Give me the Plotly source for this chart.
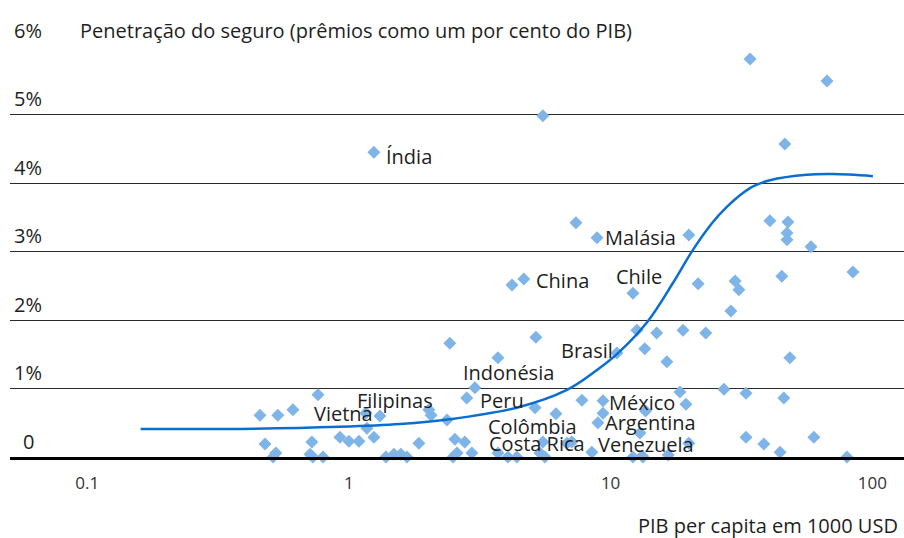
import math
import plotly.graph_objects as go

# scatter: GDP per capita (1000 USD) vs insurance penetration (% of GDP)
gdp = [
    0.457, 0.535, 0.611, 0.762, 0.478, 0.526, 0.513, 0.722, 0.710, 0.728, 0.796,
    0.924, 1.0, 1.092, 1.246, 1.172, 1.161, 1.313, 1.384, 1.486, 1.580, 1.666,
    1.851, 2.02, 2.06, 2.37, 2.54, 2.77, 2.59, 2.95, 2.50, 2.43,
    3.03, 2.82, 3.71, 5.18, 5.14, 6.18, 7.77, 9.35, 9.35, 8.94, 12.94, 5.51,
    7.11, 3.71, 4.05, 4.38, 5.37, 5.61, 6.81, 8.48, 12.17, 13.28, 10.57,
    34.1, 67.1, 5.51, 1.246, 46.3, 7.37, 8.87, 19.9, 40.6, 47.6, 47.2, 47.2,
    58.3, 4.66, 4.20, 12.17, 21.6, 29.9, 30.9, 28.8, 45.1, 84.3, 12.6, 15.0,
    18.9, 23.1, 13.5, 16.4, 48.4,
    18.4, 19.4, 27.1, 32.9, 45.9, 13.6, 13.2, 16.6, 19.9, 32.9, 38.5, 44.4,
    59.8, 80.0,
]
penetration = [
    0.61, 0.61, 0.69, 0.91, 0.19, 0.06, 0.0, 0.22, 0.04, 0.0, 0.0,
    0.29, 0.23, 0.23, 0.29, 0.42, 0.64, 0.60, 0.0, 0.04, 0.04, 0.0,
    0.20, 0.69, 0.61, 0.54, 0.26, 0.22, 0.06, 0.06, 0.0, 1.66,
    1.01, 0.86, 1.45, 1.75, 0.72, 0.63, 0.83, 0.82, 0.64, 0.50, 0.35, 0.22,
    0.22, 0.06, 0.0, 0.0, 0.06, 0.0, 0.20, 0.07, 0.0, 0.0, 1.52,
    5.81, 5.49, 4.98, 4.45, 4.57, 3.42, 3.20, 3.24, 3.45, 3.43, 3.27, 3.17,
    3.07, 2.60, 2.51, 2.39, 2.53, 2.57, 2.44, 2.13, 2.64, 2.70, 1.85, 1.81,
    1.85, 1.81, 1.58, 1.39, 1.45,
    0.95, 0.77, 0.99, 0.93, 0.86, 0.67, 0.02, 0.03, 0.20, 0.29, 0.19, 0.07,
    0.29, 0.0,
]

# fitted curve
fit_gdp = [0.160, 0.383, 0.924, 1.57, 2.43, 4.38, 6.81, 8.87, 10.7, 13.8,
           17.3, 20.6, 24.6, 27.8, 31.2, 35.0, 40.6, 56.2, 70.7, 100.5]
fit_pen = [0.41, 0.41, 0.44, 0.48, 0.55, 0.72, 0.98, 1.27, 1.52, 1.97,
           2.54, 3.02, 3.43, 3.65, 3.82, 3.95, 4.04, 4.12, 4.13, 4.10]

# country labels (left edge of text)
countries = ["Índia", "China", "Malásia", "Chile", "Brasil", "Indonésia",
             "Filipinas", "Vietnã", "Peru", "México", "Colômbia", "Argentina",
             "Costa Rica", "Venezuela"]
label_gdp = [1.373, 5.14, 9.43, 10.4, 6.40, 2.70, 1.06, 0.728, 3.14, 9.77,
             3.37, 9.43, 3.40, 8.87]
label_pen = [4.38, 2.57, 3.21, 2.63, 1.56, 1.23, 0.83, 0.64, 0.82, 0.80,
             0.44, 0.50, 0.19, 0.18]

y_ticks = [0, 1, 2, 3, 4, 5, 6]
y_ticktext = ["0", "1%", "2%", "3%", "4%", "5%", "6%"]
x_ticks = [0.1, 1, 10, 100]
x_ticktext = ["0.1", "1", "10", "100"]

FONT = "Open Sans, Noto Sans, sans-serif"
TXT = "#1e1e1e"
SIZE = 20

fig = go.Figure()
fig.add_trace(go.Scatter(
    x=gdp, y=penetration, mode="markers",
    marker=dict(symbol="diamond", size=10, color="#7fb4e8", line=dict(width=0)),
    cliponaxis=False, hoverinfo="skip",
))
fig.add_trace(go.Scatter(
    x=fit_gdp, y=fit_pen, mode="lines",
    line=dict(color="#0a6ed1", width=2.5, shape="spline", smoothing=1.0),
    hoverinfo="skip",
))

annotations = []
for name, gx, py in zip(countries, label_gdp, label_pen):
    # annotations on a log axis take log10 positions
    annotations.append(dict(
        x=math.log10(gx), y=py, xref="x", yref="y", text=name, showarrow=False,
        xanchor="left", yanchor="middle", borderpad=0,
        font=dict(family=FONT, size=SIZE, color=TXT),
    ))
for v, t in zip(y_ticks, y_ticktext):
    annotations.append(dict(
        x=0, y=v, xref="paper", yref="y", text=t, showarrow=False,
        xanchor="center", yanchor="middle", xshift=18, yshift=16,
        font=dict(family=FONT, size=SIZE, color=TXT),
    ))
annotations.append(dict(
    x=0, y=6, xref="paper", yref="y",
    text="Penetração do seguro (prêmios como um por cento do PIB)",
    showarrow=False, xanchor="left", yanchor="middle", xshift=68, yshift=16,
    font=dict(family=FONT, size=SIZE, color=TXT),
))
annotations.append(dict(
    x=1, y=0, xref="paper", yref="paper", text="PIB per capita em 1000 USD",
    showarrow=False, xanchor="right", yanchor="middle", xshift=-4, yshift=-68,
    font=dict(family=FONT, size=SIZE, color=TXT),
))

fig.update_layout(
    width=904, height=538,
    margin=dict(l=10, r=0, t=46, b=81),
    paper_bgcolor="white", plot_bgcolor="white",
    showlegend=False,
    annotations=annotations,
    xaxis=dict(
        type="log", range=[-1.295, 2.121],
        tickvals=x_ticks, ticktext=x_ticktext, ticks="",
        tickfont=dict(family=FONT, size=17, color="#333333"),
        ticklabelstandoff=9,
        showgrid=False, zeroline=False,
        showline=True, linecolor="black", linewidth=2.5,
    ),
    yaxis=dict(
        range=[0, 6], tickvals=y_ticks, showticklabels=False, ticks="",
        showgrid=True, gridcolor="#2b2b2b", gridwidth=1.3,
        zeroline=False, showline=False,
    ),
)

fig.write_html(
    "out.html",
    config={"displayModeBar": False},
    post_script="document.body.style.margin='0';",
)
